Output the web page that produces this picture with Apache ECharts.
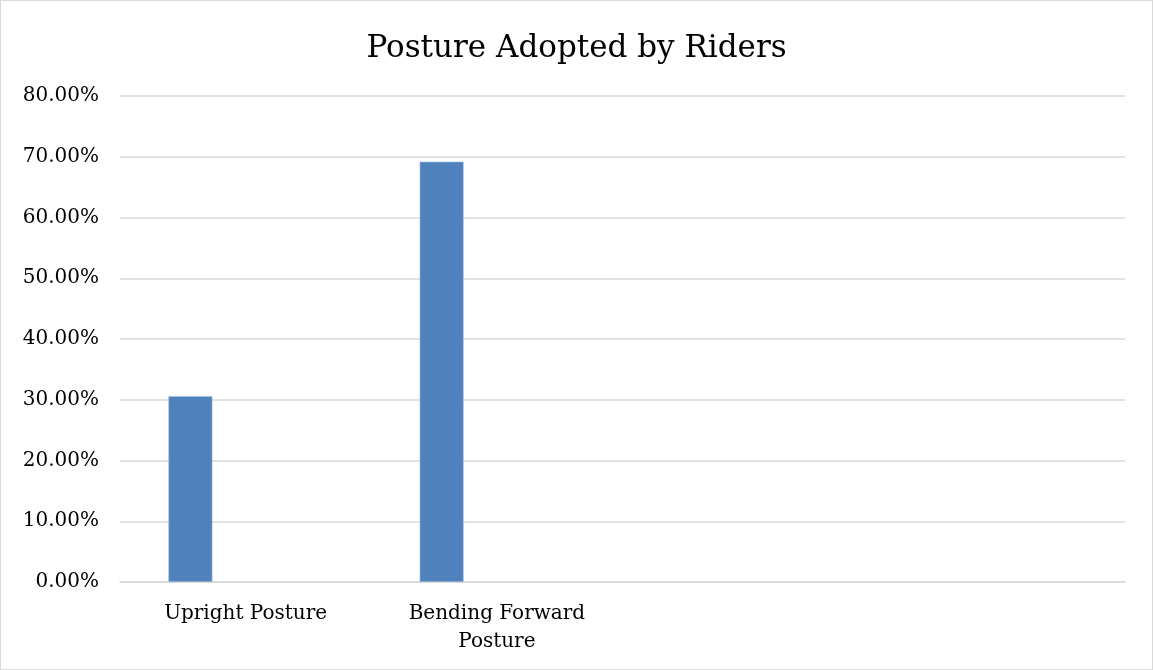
<!DOCTYPE html>
<html>
<head>
<meta charset="utf-8">
<script src="https://cdn.jsdelivr.net/npm/echarts@6/dist/echarts.min.js"></script>
<style>
  html, body { margin: 0; padding: 0; background: #fff; }
  #chart { width: 1151px; height: 668px; border: 1px solid #d9d9d9; }
</style>
</head>
<body>
<div id="chart"></div>
<script>
// Share of riders by posture (percent)
const categories = ['Upright Posture', 'Bending Forward\nPosture', '', ''];
const postureShare = [30.6, 69.2, null, null];
// second (empty) series keeps the bars to the left of each category slot
const spacerSeries = [null, null, null, null];
const yTicks = { min: 0, max: 80, interval: 10 };

const fontFamily = '"DejaVu Serif", serif';

const chart = echarts.init(document.getElementById('chart'), null, { renderer: 'canvas' });
chart.setOption({
  animation: false,
  backgroundColor: '#ffffff',
  title: {
    text: 'Posture Adopted by Riders',
    left: 'center',
    top: 27,
    textStyle: { fontFamily, fontSize: 31, fontWeight: 'normal', color: '#000' }
  },
  grid: { left: 119, right: 27, top: 95, bottom: 87, containLabel: false },
  xAxis: {
    type: 'category',
    data: categories,
    axisLine: { lineStyle: { color: '#d9d9d9', width: 1.5 } },
    axisTick: { show: false },
    axisLabel: {
      fontFamily, fontSize: 20, color: '#000', margin: 18, lineHeight: 28,
      interval: 0
    },
    splitLine: { show: false }
  },
  yAxis: {
    type: 'value',
    min: yTicks.min,
    max: yTicks.max,
    interval: yTicks.interval,
    axisLine: { show: false },
    axisTick: { show: false },
    axisLabel: {
      fontFamily, fontSize: 20, color: '#000', margin: 21, padding: [3, 0, 0, 0],
      formatter: v => v.toFixed(2) + '%'
    },
    splitLine: { lineStyle: { color: '#d9d9d9', width: 1.5 } }
  },
  series: [
    {
      type: 'bar',
      data: postureShare,
      barWidth: 44,
      barGap: '151%',
      itemStyle: { color: '#4f81bd', borderColor: '#a9c1e0', borderWidth: 0.6 }
    },
    {
      type: 'bar',
      data: spacerSeries,
      barWidth: 44,
      itemStyle: { color: '#c0504d' }
    }
  ]
});
</script>
</body>
</html>
